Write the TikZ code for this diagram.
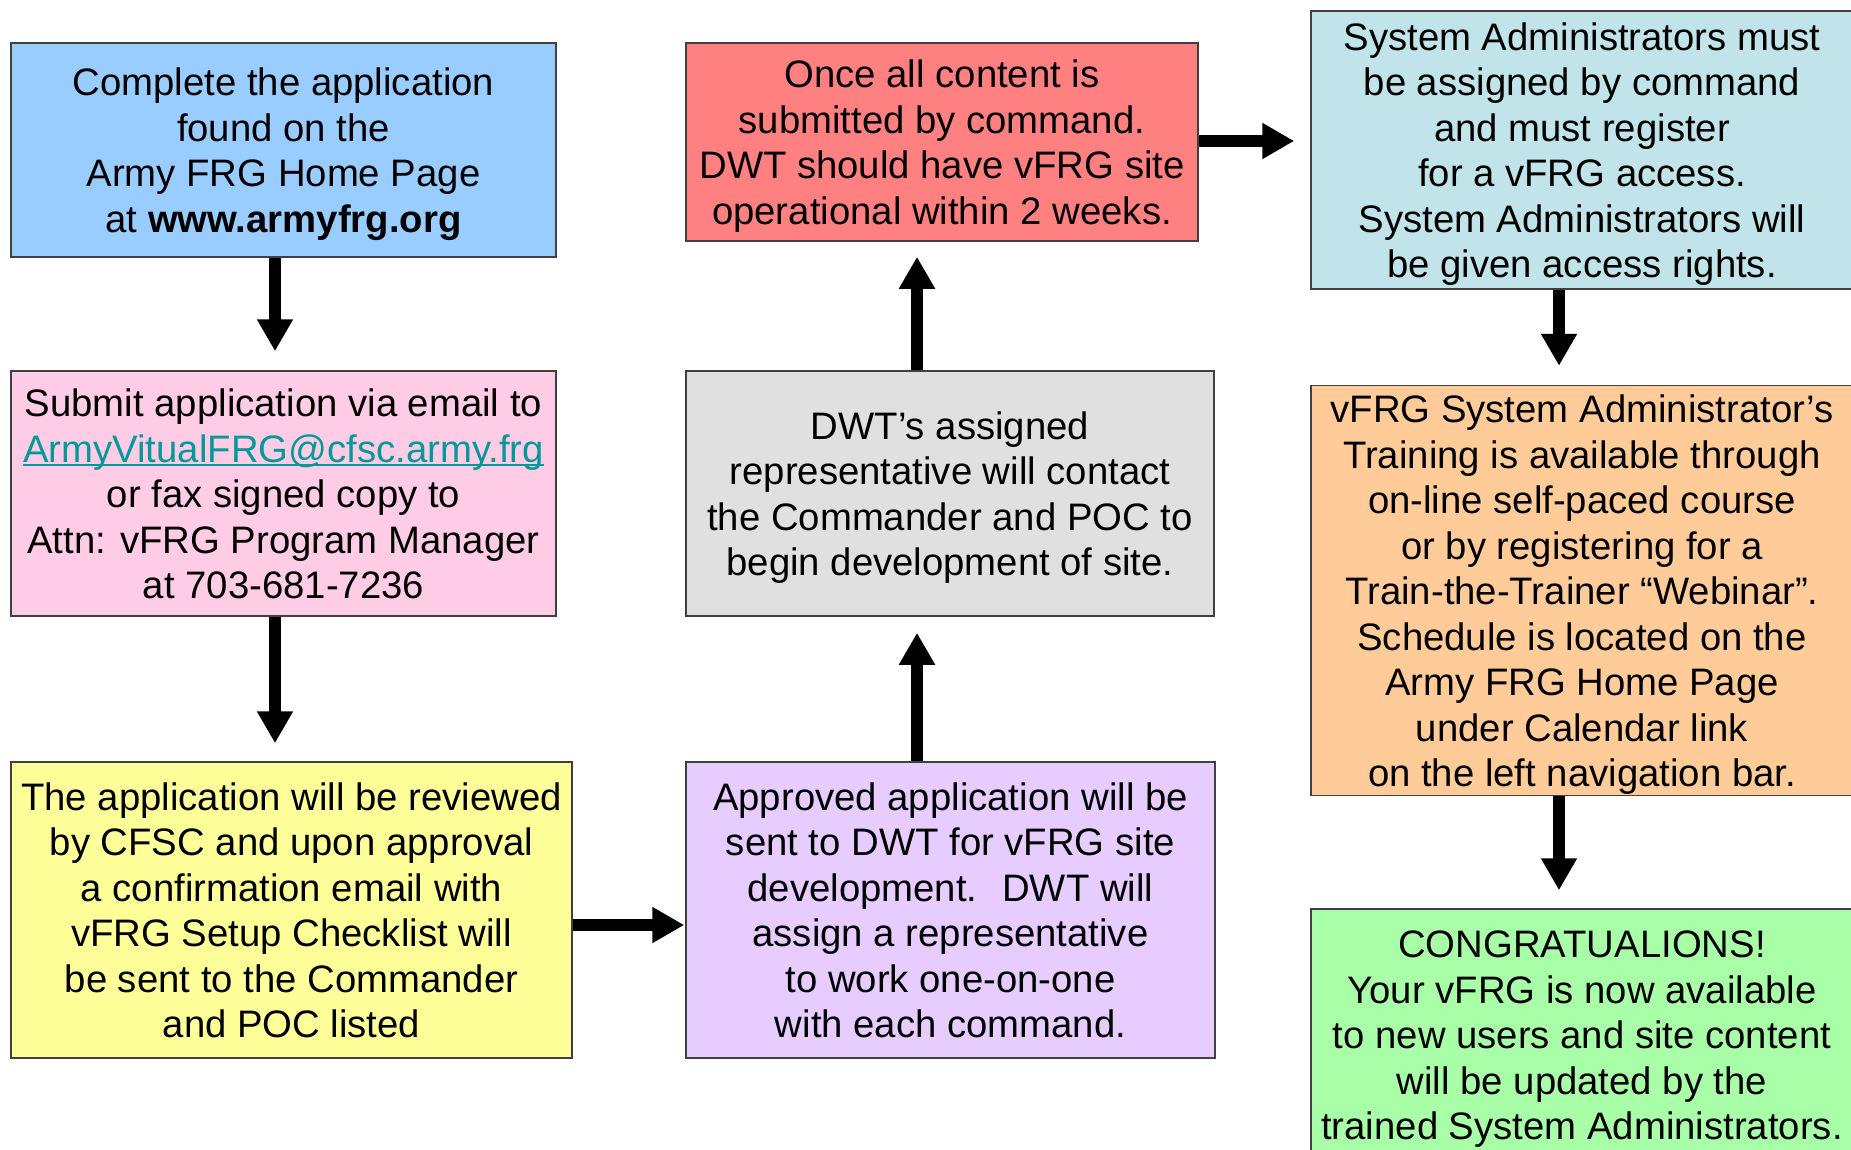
\documentclass[tikz,border=0pt]{standalone}
\usepackage{fontspec}
\setmainfont{Liberation Sans}
\usetikzlibrary{arrows.meta}
\definecolor{cBlue}{HTML}{99CCFF}
\definecolor{cPink}{HTML}{FFCCE6}
\definecolor{cYellow}{HTML}{FFFF99}
\definecolor{cRed}{HTML}{FF8080}
\definecolor{cGray}{HTML}{E0E0E0}
\definecolor{cPurple}{HTML}{E6CCFF}
\definecolor{cCyan}{HTML}{C0E4EA}
\definecolor{cOrange}{HTML}{FFCC99}
\definecolor{cGreen}{HTML}{A8FFA8}
\definecolor{cLink}{HTML}{009999}
\newcommand\myulink[1]{{\setbox0=\hbox{#1}\copy0\llap{\rule[-4pt]{\wd0}{2pt}}}}
\newcommand\ts{\rule{0pt}{37pt}}
\newcommand\bs{\rule[-9pt]{0pt}{0pt}}
\begin{document}
\begin{tikzpicture}[x=1pt,y=-1pt,
  box/.style={draw=black!75, line width=1.5pt, rectangle, inner sep=0pt, align=center,
    font=\fontsize{38.3}{45.5}\selectfont},
  arr/.style={line width=12pt, -{Triangle[length=32pt,width=34pt]}}]
\useasboundingbox (0,0) rectangle (1851,1150);
\begin{scope}
\clip (0,0) rectangle (1851,1150);
\node[box, fill=cBlue, minimum width=545pt, minimum height=214pt] (blue) at (283.5,150)
  {\ts Complete the application\\found on the\\Army FRG Home Page\\at \textbf{www.armyfrg.org}\bs};
\node[box, fill=cPink, minimum width=545pt, minimum height=245pt] (pink) at (283.5,493.5)
  {\ts Submit application via email to\\\textcolor{cLink}{\myulink{ArmyVitualFRG@cfsc.army.frg}}\\or fax signed copy to\\Attn: vFRG Program Manager\\at 703-681-7236\bs};
\node[box, fill=cYellow, minimum width=561pt, minimum height=296pt] (yellow) at (291.5,910)
  {\ts The application will be reviewed\\by CFSC and upon approval\\a confirmation email with\\vFRG Setup Checklist will\\be sent to the Commander\\and POC listed\bs};
\node[box, fill=cRed, minimum width=512pt, minimum height=198pt] (red) at (942,142)
  {\ts Once all content is\\submitted by command.\\DWT should have vFRG site\\operational within 2 weeks.\bs};
\node[box, fill=cGray, minimum width=528pt, minimum height=245pt] (gray) at (950,493.5)
  {\ts DWT’s assigned\\representative will contact\\the Commander and POC to\\begin development of site.\bs};
\node[box, fill=cPurple, minimum width=529pt, minimum height=296pt] (purple) at (950.5,910)
  {\ts Approved application will be\\sent to DWT for vFRG site\\development.~ DWT will\\assign a representative\\to work one-on-one\\with each command.\bs};
\node[box, fill=cCyan, minimum width=542pt, minimum height=278pt] (cyan) at (1582,150)
  {\ts System Administrators must\\be assigned by command\\and must register\\for a vFRG access.\\System Administrators will\\be given access rights.\bs};
\node[box, fill=cOrange, minimum width=542pt, minimum height=409pt] (orange) at (1582,590.5)
  {\ts vFRG System Administrator’s\\Training is available through\\on-line self-paced course\\or by registering for a\\Train-the-Trainer “Webinar”.\\Schedule is located on the\\Army FRG Home Page\\under Calendar link\\on the left navigation bar.\bs};
\node[box, fill=cGreen, minimum width=542pt, minimum height=251pt] (green) at (1582,1034.5)
  {\ts CONGRATUALIONS!\\Your vFRG is now available\\to new users and site content\\will be updated by the\\trained System Administrators.\bs};
\end{scope}
\coordinate (c1) at (275,0);
\coordinate (c2) at (917,0);
\coordinate (c3) at (1559,0);
\coordinate (r3) at (0,925);
\coordinate (r6) at (0,141);
\draw[arr, shorten >=19pt] (blue.south -| c1) -- (pink.north -| c1);
\draw[arr, shorten >=18pt] (pink.south -| c1) -- (yellow.north -| c1);
\draw[arr, shorten >=1pt] (yellow.east |- r3) -- (purple.west |- r3);
\draw[arr, shorten >=16pt] (purple.north -| c2) -- (gray.south -| c2);
\draw[arr, shorten >=15pt] (gray.north -| c2) -- (red.south -| c2);
\draw[arr, shorten >=16pt] (red.east |- r6) -- (cyan.west |- r6);
\draw[arr, shorten >=19pt] (cyan.south -| c3) -- (orange.north -| c3);
\draw[arr, shorten >=18pt] (orange.south -| c3) -- (green.north -| c3);
\end{tikzpicture}
\end{document}
